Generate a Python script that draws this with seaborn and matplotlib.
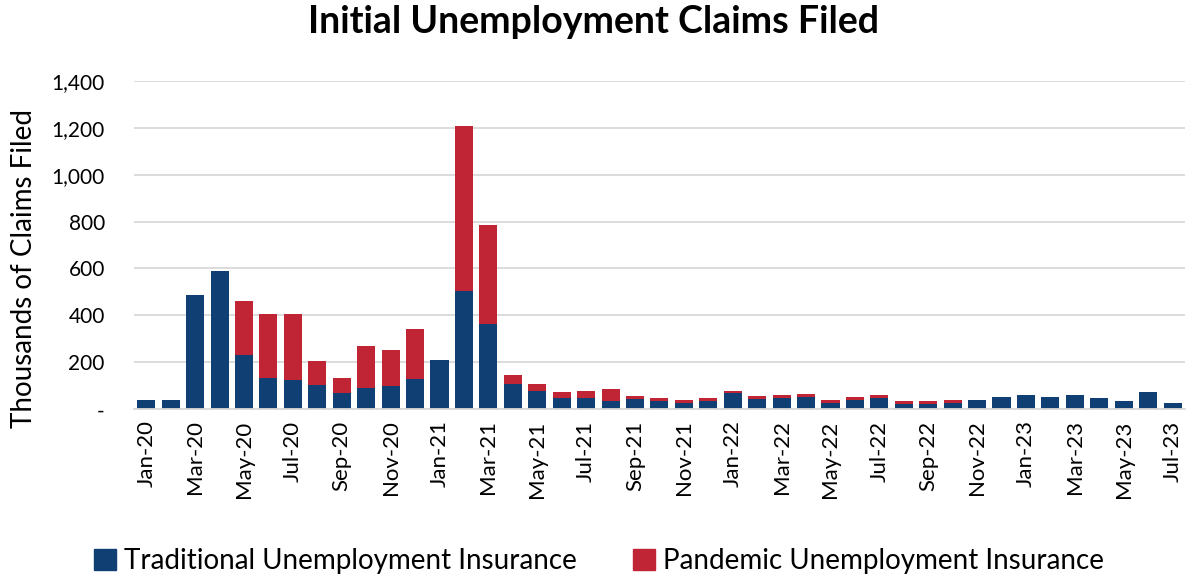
import matplotlib
matplotlib.use("Agg")
import matplotlib.pyplot as plt
import seaborn as sns
import pandas as pd
import numpy as np
from matplotlib.ticker import FuncFormatter, FixedLocator
from matplotlib.patches import Patch

months = ["Jan-20", "Feb-20", "Mar-20", "Apr-20", "May-20", "Jun-20", "Jul-20", "Aug-20", "Sep-20", "Oct-20", "Nov-20", "Dec-20",
          "Jan-21", "Feb-21", "Mar-21", "Apr-21", "May-21", "Jun-21", "Jul-21", "Aug-21", "Sep-21", "Oct-21", "Nov-21", "Dec-21",
          "Jan-22", "Feb-22", "Mar-22", "Apr-22", "May-22", "Jun-22", "Jul-22", "Aug-22", "Sep-22", "Oct-22", "Nov-22", "Dec-22",
          "Jan-23", "Feb-23", "Mar-23", "Apr-23", "May-23", "Jun-23", "Jul-23"]

traditional = [38, 38, 488, 591, 230, 135, 125, 102, 68, 91, 99, 129,
               210, 505, 363, 108, 78, 50, 50, 37, 43, 37, 28, 37,
               68, 45, 50, 53, 28, 41, 50, 24, 24, 28, 38, 54,
               60, 51, 60, 47, 36, 72, 26]

pandemic = [0, 0, 0, 0, 231, 271, 283, 105, 65, 177, 152, 214,
            0, 703, 421, 38, 30, 22, 30, 48, 12, 10, 10, 10,
            9, 10, 11, 11, 10, 12, 11, 10, 10, 12, 0, 0,
            0, 0, 0, 0, 0, 0, 0]

series_names = ["Traditional Unemployment Insurance", "Pandemic Unemployment Insurance"]

BLUE = "#0f3f73"
RED = "#c02536"

sns.set_theme(style="white")
plt.rcParams["font.family"] = ["Lato", "DejaVu Sans"]
plt.rcParams["text.color"] = "black"
plt.rcParams["axes.labelcolor"] = "black"

df = pd.DataFrame({"month": months, "trad": traditional, "pua": pandemic})
df["total"] = df["trad"] + df["pua"]

fig = plt.figure(figsize=(11.86, 5.77), dpi=100)
ax = fig.add_axes([0.113, 0.2906, 0.886, 0.5695])

sns.barplot(data=df, x="month", y="total", color=RED, width=0.74, ax=ax, saturation=1, order=months,
            edgecolor="none")
sns.barplot(data=df, x="month", y="trad", color=BLUE, width=0.74, ax=ax, saturation=1, order=months,
            edgecolor="none")

ax.set_xlim(-0.5, len(months) - 0.5)
ax.set_ylim(0, 1400)
ax.set_yticks(np.arange(0, 1401, 200))
ax.yaxis.set_major_formatter(FuncFormatter(lambda v, p: "-" if v == 0 else f"{int(v):,}"))
ax.yaxis.grid(True, color="#d9d9d9", linewidth=1.3)
ax.set_axisbelow(True)

pos = list(range(0, len(months), 2))
ax.xaxis.set_major_locator(FixedLocator(pos))
ax.set_xticklabels([months[i] for i in pos], rotation=90)
ax.xaxis.set_minor_locator(FixedLocator(np.arange(-0.5, len(months), 2)))
ax.tick_params(axis="x", which="major", length=0, pad=8, labelsize=16, colors="#000000")
ax.tick_params(axis="x", which="minor", length=9, width=1.3, color="#d9d9d9")
ax.tick_params(axis="y", length=0, pad=21, labelsize=15, colors="#000000")

for s in ["top", "right", "left"]:
    ax.spines[s].set_visible(False)
ax.spines["bottom"].set_color("#d9d9d9")
ax.spines["bottom"].set_linewidth(1.3)

ax.set_xlabel("")
ax.set_ylabel("Thousands of Claims Filed", fontsize=20, color="black")
ax.yaxis.set_label_coords(-0.092, 0.43)

fig.text(0.5, 1 - 22 / 577, "Initial Unemployment Claims Filed", fontsize=27, fontweight="bold",
         color="black", ha="center", va="center")

handles = [Patch(facecolor=BLUE, edgecolor=BLUE), Patch(facecolor=RED, edgecolor=RED)]
fig.legend(handles, series_names, loc="center", bbox_to_anchor=(0.505, 1 - 561 / 577), ncol=2, frameon=False,
           fontsize=20, handlelength=0.8, handleheight=0.8, handletextpad=0.3, columnspacing=2.0)

fig.savefig("out.png", dpi=100)
